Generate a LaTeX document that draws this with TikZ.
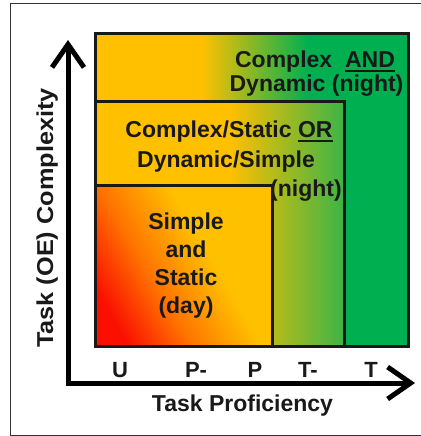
\documentclass[tikz,border=0pt]{standalone}
\usepackage{fontspec}
\setmainfont{Liberation Sans}
\usetikzlibrary{arrows.meta}
\definecolor{gold}{RGB}{255,192,0}
\definecolor{grn}{RGB}{0,176,80}
\definecolor{grnb}{RGB}{60,180,70}
\definecolor{orng}{RGB}{255,115,0}
\definecolor{rd}{RGB}{250,15,0}
\definecolor{ink}{RGB}{25,25,25}
\pgfdeclarehorizontalshading{bigshade}{100bp}{color(0bp)=(gold); color(42bp)=(gold); color(59bp)=(grn); color(100bp)=(grn)}
\pgfdeclarehorizontalshading{midshade}{100bp}{color(0bp)=(gold); color(52bp)=(gold); color(75bp)=(grnb); color(100bp)=(grnb)}
\pgfdeclareverticalshading{smallshade}{100bp}{color(0bp)=(rd); color(24bp)=(rd); color(40bp)=(orng); color(58bp)=(gold); color(100bp)=(gold)}
\newcommand{\ulword}[1]{\setbox0\hbox{#1}\rlap{\vrule height -3pt depth 5pt width \wd0}\box0}
\begin{document}
\begin{tikzpicture}[x=1pt, y=-1pt,
  box/.style={draw=ink, line width=3pt},
  lbl/.style={anchor=base, inner sep=0pt, text=ink, font=\fontsize{23}{27}\selectfont\bfseries},
  tick/.style={lbl, font=\fontsize{22}{27}\selectfont\bfseries},
  axis/.style={draw=black, line width=5pt, line join=miter,
    {Straight Barb[length=23pt,width=32pt]}-{Straight Barb[length=23pt,width=32pt]}}
]
\useasboundingbox (0,0) rectangle (420,436);
\draw[black!80, line width=1pt] (10,4) rectangle (440,435);

% the three regions
\shadedraw[box, shading=bigshade] (95,34) rectangle (408,346);
\shadedraw[box, shading=midshade] (95,101) rectangle (344,346);
\shadedraw[box, shading=smallshade, shading angle=-60] (95,185) rectangle (272,346);

% axes
\coordinate (O) at (68,383);
\coordinate (ytop) at (68,40);
\coordinate (xend) at (415,383);
\draw[axis] (ytop) -- (O) -- (xend);

% region labels
\node[lbl] (cd1) at (315,67) {Complex\ \ \ulword{AND}};
\node[lbl] (cd2) at (316.5,92) {Dynamic (night)};
\node[lbl] (cs1) at (229,137) {Complex/Static \ulword{OR}};
\node[lbl] (cs2) at (226,167) {Dynamic/Simple};
\node[lbl] (cs3) at (306,196) {(night)};
\node[lbl] (ss1) at (186,229) {Simple};
\node[lbl] (ss2) at (186,257) {and};
\node[lbl] (ss3) at (186,285) {Static};
\node[lbl] (ss4) at (186,313) {(day)};

% proficiency ticks
\node[tick] (u) at (120,377) {U};
\node[tick] (pm) at (196,377) {P-};
\node[tick] (p) at (255,377) {P};
\node[tick] (tm) at (308,377) {T-};
\node[tick] (t) at (371,377) {T};

% axis titles
\node[lbl] (xt) at (242.5,411) {Task Proficiency};
\node[lbl, rotate=90] (yt) at (53,218) {\scalebox{1.1}[1]{Task (OE) Complexity}};
\end{tikzpicture}
\end{document}
